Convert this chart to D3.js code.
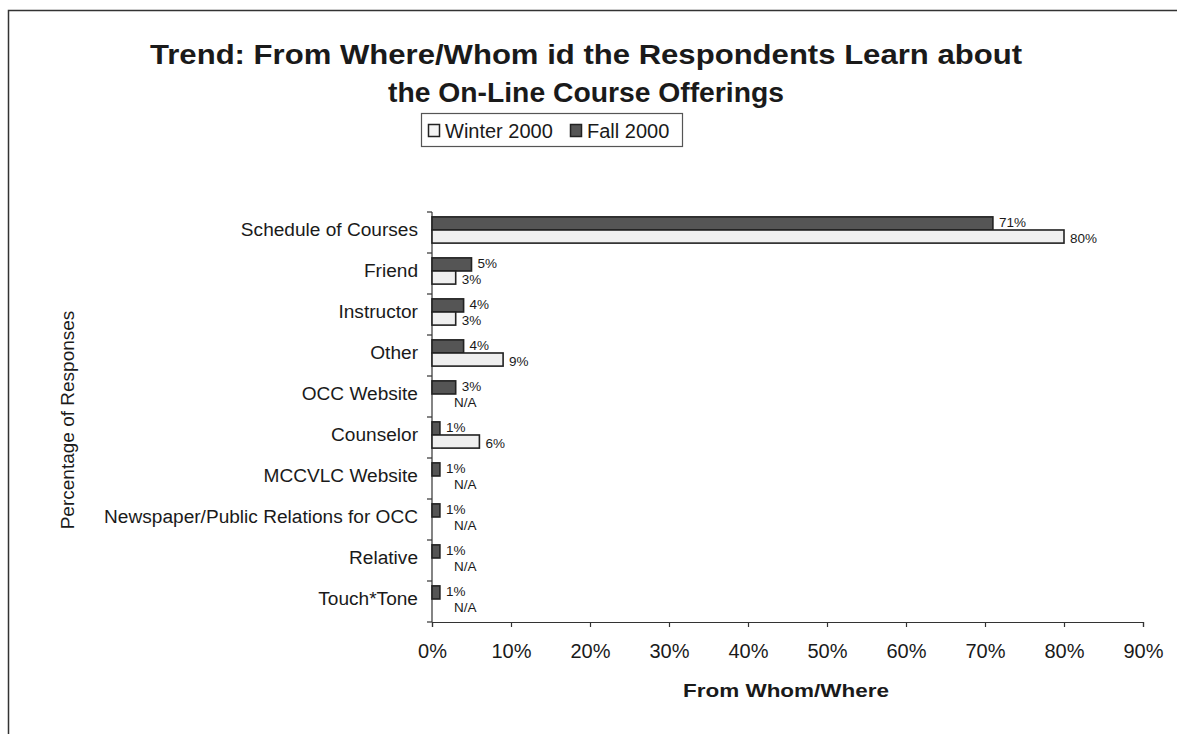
<!DOCTYPE html>
<html>
<head>
<meta charset="utf-8">
<script src="https://cdn.jsdelivr.net/npm/d3@7"></script>
<style>
  html, body { margin: 0; padding: 0; background: #fff; }
  svg { display: block; }
  text { font-family: "Liberation Sans", Arial, sans-serif; fill: #1a1a1a; }
</style>
</head>
<body>
<svg id="chart" width="1177" height="734"></svg>
<script>
// Survey sources, top to bottom
const categories = [
  "Schedule of Courses", "Friend", "Instructor", "Other", "OCC Website",
  "Counselor", "MCCVLC Website", "Newspaper/Public Relations for OCC",
  "Relative", "Touch*Tone"
];
// Percent of responses; null = not asked that term (N/A)
const winter2000 = [80, 3, 3, 9, null, 6, null, null, null, null];
const fall2000   = [71, 5, 4, 4, 3, 1, 1, 1, 1, 1];
const xTicks = [0, 10, 20, 30, 40, 50, 60, 70, 80, 90];
const seriesNames = ["Winter 2000", "Fall 2000"];

const svg = d3.select("#chart");

// widen glyphs horizontally (the printed chart uses a wide face)
function widen(sel, factor) {
  sel.each(function () {
    const w = this.getComputedTextLength();
    d3.select(this).attr("textLength", w * factor).attr("lengthAdjust", "spacingAndGlyphs");
  });
}

// outer frame (right and bottom edges fall outside the page)
svg.append("rect")
  .attr("x", 8.5).attr("y", 10.5).attr("width", 1300).attr("height", 900)
  .attr("fill", "none").attr("stroke", "#333").attr("stroke-width", 1.5);

const plot = { left: 432, right: 1143, top: 212, bottom: 622 };

const x = d3.scaleLinear().domain([0, 90]).range([plot.left, plot.right]);
const y = d3.scaleBand().domain(categories).range([plot.top, plot.bottom])
  .paddingInner(0.36).paddingOuter(0.18).align(0.33);
const sub = d3.scaleBand().domain(["fall", "winter"]).range([0, y.bandwidth()]);

// title
const t1 = svg.append("text").attr("x", 586).attr("y", 64).attr("text-anchor", "middle")
  .style("font-weight", "bold").style("font-size", "27px")
  .text("Trend: From Where/Whom id the Respondents Learn about");
const t2 = svg.append("text").attr("x", 586).attr("y", 102).attr("text-anchor", "middle")
  .style("font-weight", "bold").style("font-size", "27px")
  .text("the On-Line Course Offerings");
t1.attr("textLength", 872).attr("lengthAdjust", "spacingAndGlyphs");
t2.attr("textLength", 396).attr("lengthAdjust", "spacingAndGlyphs");

// legend
const lg = svg.append("g");
lg.append("rect").attr("x", 421.5).attr("y", 113.5).attr("width", 261).attr("height", 33)
  .attr("fill", "#fff").attr("stroke", "#555").attr("stroke-width", 1.2);
const legendItems = [
  { name: seriesNames[0], fill: "#f4f4f4", x: 428 },
  { name: seriesNames[1], fill: "#555", x: 570 }
];
legendItems.forEach(d => {
  lg.append("rect").attr("x", d.x + 0.5).attr("y", 124.5).attr("width", 11).attr("height", 12)
    .attr("fill", d.fill).attr("stroke", "#222").attr("stroke-width", 1.5);
  lg.append("text").attr("x", d.x + 17).attr("y", 137.5).style("font-size", "20px").text(d.name);
});

// x axis
const xAxis = d3.axisBottom(x).tickValues(xTicks).tickFormat(d => d + "%").tickSize(5).tickPadding(17);
const gx = svg.append("g").attr("transform", `translate(0,${plot.bottom})`).call(xAxis);
gx.selectAll("path, line").attr("stroke", "#333").attr("stroke-width", 1.2);
gx.selectAll("text").style("font-size", "20px").style("font-family", "'Liberation Sans', Arial, sans-serif").attr("fill", "#1a1a1a");

// y axis: line with ticks between categories
const ga = svg.append("g");
ga.append("line").attr("x1", plot.left).attr("x2", plot.left).attr("y1", plot.top).attr("y2", plot.bottom)
  .attr("stroke", "#333").attr("stroke-width", 1.2);
d3.range(categories.length + 1).forEach(i => {
  const yy = plot.top + i * (plot.bottom - plot.top) / categories.length;
  ga.append("line").attr("x1", plot.left - 5).attr("x2", plot.left).attr("y1", yy).attr("y2", yy)
    .attr("stroke", "#333").attr("stroke-width", 1.2);
});
const cats = ga.selectAll("text.cat").data(categories).join("text")
  .attr("class", "cat")
  .attr("x", plot.left - 14)
  .attr("y", d => y(d) + y.bandwidth() / 2)
  .attr("dy", "0.35em")
  .attr("text-anchor", "end")
  .style("font-size", "18px")
  .text(d => d);
widen(cats, 1.06);

// axis titles
svg.append("text").attr("x", 786).attr("y", 697).attr("text-anchor", "middle")
  .style("font-weight", "bold").style("font-size", "19px")
  .attr("textLength", 206).attr("lengthAdjust", "spacingAndGlyphs")
  .text("From Whom/Where");
svg.append("text").attr("transform", "translate(74,420) rotate(-90)").attr("text-anchor", "middle")
  .style("font-size", "19px").text("Percentage of Responses");

// bars
const rows = categories.map((c, i) => ({ c, winter: winter2000[i], fall: fall2000[i] }));
const bars = svg.append("g");
const series = [
  { key: "fall", fill: "#555555", nudge: -1 },
  { key: "winter", fill: "#efefef", nudge: 1.5 }
];
series.forEach(s => {
  bars.selectAll(null).data(rows.filter(r => r[s.key] != null)).join("rect")
    .attr("x", x(0))
    .attr("y", r => y(r.c) + sub(s.key))
    .attr("width", r => x(r[s.key]) - x(0))
    .attr("height", sub.bandwidth())
    .attr("fill", s.fill)
    .attr("stroke", "#222").attr("stroke-width", 1.6);
  bars.selectAll(null).data(rows).join("text")
    .attr("x", r => r[s.key] == null ? x(0) + 22 : x(r[s.key]) + 6)
    .attr("y", r => y(r.c) + sub(s.key) + sub.bandwidth() / 2 + s.nudge)
    .attr("dy", "0.35em")
    .style("font-size", "13.5px")
    .text(r => r[s.key] == null ? "N/A" : r[s.key] + "%");
});
</script>
</body>
</html>
